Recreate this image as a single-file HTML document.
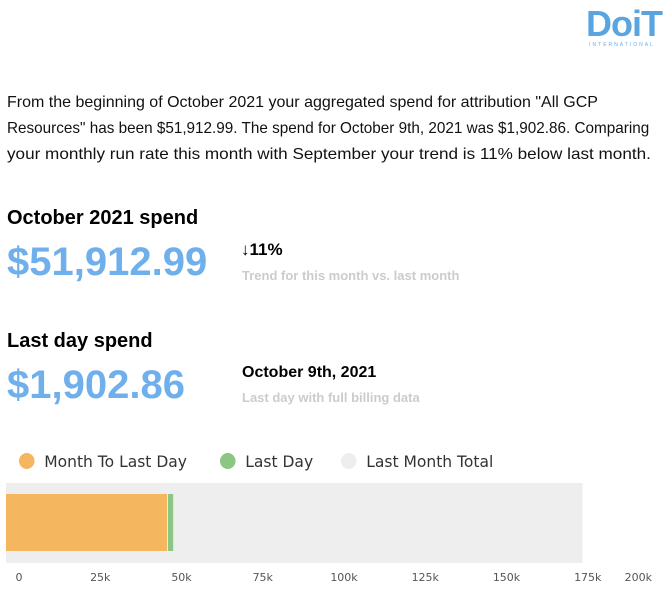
<!DOCTYPE html>
<html><head><meta charset="utf-8">
<style>
body{margin:0;width:672px;height:594px;background:#fff;font-family:"Liberation Sans",Arial,sans-serif;position:relative;overflow:hidden}
.a{position:absolute;white-space:nowrap}
.p{left:7px;font-size:16px;color:#111;transform-origin:0 0}
.h{left:7px;font-size:20px;font-weight:bold;color:#000}
.big{left:7px;font-size:40px;font-weight:bold;color:#6fb0ec}
.sub{font-size:13px;font-weight:bold;color:#ccc;left:242px}
.leg{font-family:"DejaVu Sans",sans-serif;font-size:16px;color:#333;transform-origin:0 0;transform:scaleX(0.97)}
</style></head><body>
<div class="a" style="left:586px;top:6px;width:72px;text-align:center;color:#5aa5e0">
<div style="font-size:36px;font-weight:bold;line-height:36px;letter-spacing:-1px">DoiT</div>
<div style="font-size:5px;letter-spacing:2px;color:#6aaee6">INTERNATIONAL</div></div>
<div class="a p" style="top:94px">From the beginning of October 2021 your aggregated spend for attribution "All GCP</div>
<div class="a p" style="top:120px;transform:scaleX(0.955)">Resources" has been $51,912.99. The spend for October 9th, 2021 was $1,902.86. Comparing</div>
<div class="a p" style="top:146px;transform:scaleX(1.07)">your monthly run rate this month with September your trend is 11% below last month.</div>
<div class="a h" style="top:207px">October 2021 spend</div>
<div class="a big" style="top:240px">$51,912.99</div>
<div class="a" style="left:241px;top:240px;font-size:17px;font-weight:bold">↓11%</div>
<div class="a sub" style="top:268px">Trend for this month vs. last month</div>
<div class="a h" style="top:330px">Last day spend</div>
<div class="a big" style="top:363px">$1,902.86</div>
<div class="a" style="left:242px;top:364px;font-size:16px;font-weight:bold">October 9th, 2021</div>
<div class="a sub" style="top:390px">Last day with full billing data</div>

<div class="a leg" style="left:19px;top:452px"><span style="display:inline-block;width:16px;height:16px;border-radius:50%;background:#f4b65f;vertical-align:-2px;margin-right:10px"></span>Month To Last Day</div>
<div class="a leg" style="left:220px;top:452px"><span style="display:inline-block;width:16px;height:16px;border-radius:50%;background:#8cc584;vertical-align:-2px;margin-right:10px"></span>Last Day</div>
<div class="a leg" style="left:341px;top:452px"><span style="display:inline-block;width:16px;height:16px;border-radius:50%;background:#eee;vertical-align:-2px;margin-right:10px"></span>Last Month Total</div>

<svg class="a" id="chart" style="left:0;top:470px" width="672" height="124"></svg>
<script>
const categories=["Month To Last Day","Last Day","Last Month Total"];
const monthToLastDay=[50010];
const lastDay=[1903];
const lastMonthTotal=[179000];
const tickValues=[0,25000,50000,75000,100000,125000,150000,175000,200000];
const tickLabels=["0","25k","50k","75k","100k","125k","150k","175k","200k"];
const svg=document.getElementById('chart');
const NS='http://www.w3.org/2000/svg';
function x(v){return 6+v*0.00322;}
function xl(v){return 19+v*0.00325;}
function rect(x0,y,w,h,fill,name){const r=document.createElementNS(NS,'rect');r.setAttribute('x',x0);r.setAttribute('y',y);r.setAttribute('width',w);r.setAttribute('height',h);r.setAttribute('fill',fill);


svg.appendChild(r);}
rect(x(0),13,x(lastMonthTotal[0])-x(0),80,'#eeeeee','bar-last-month-total');
rect(x(0),24,x(monthToLastDay[0])-x(0),57,'#f4b65f','bar-month-to-last-day');
rect(x(monthToLastDay[0])+1,24,x(monthToLastDay[0]+lastDay[0])-x(monthToLastDay[0])-1,57,'#8cc584','bar-last-day');
tickValues.forEach((v,i)=>{const t=document.createElementNS(NS,'text');
let px=xl(v),anchor='middle';
if(px>640){px=652;anchor='end';}
t.setAttribute('x',px);t.setAttribute('y',111);t.setAttribute('text-anchor',anchor);t.setAttribute('font-size','11');t.setAttribute('fill','#555');t.setAttribute('font-family','DejaVu Sans, sans-serif');t.textContent=tickLabels[i];


svg.appendChild(t);});
</script>
</body></html>
